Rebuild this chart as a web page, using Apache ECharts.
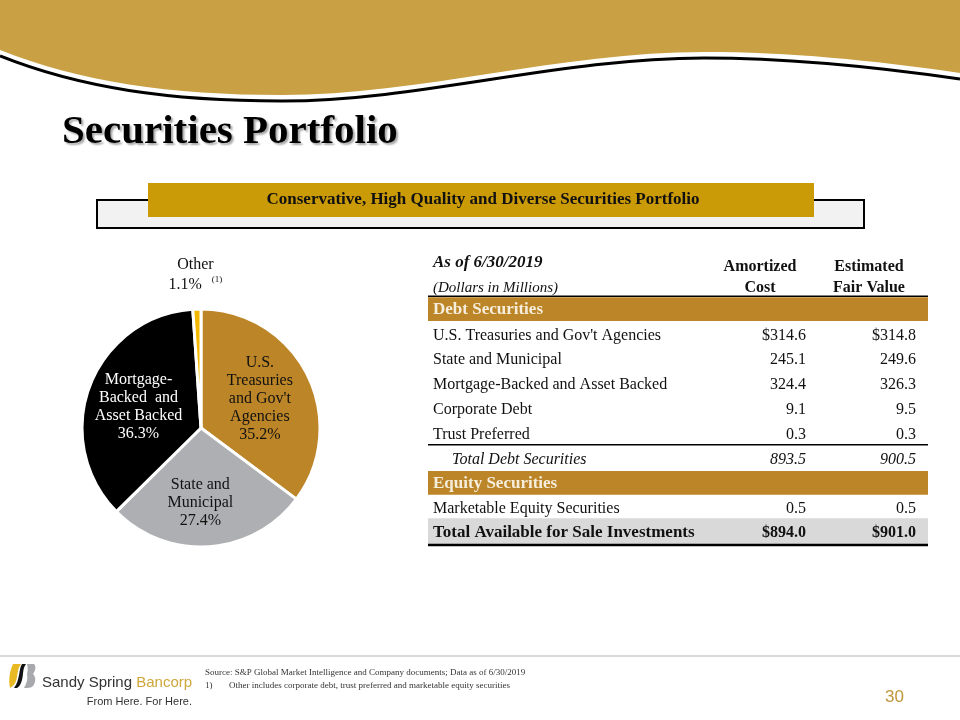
<!DOCTYPE html>
<html>
<head>
<meta charset="utf-8">
<script src="https://cdn.jsdelivr.net/npm/echarts@6/dist/echarts.min.js"></script>
<style>
  html, body { margin: 0; padding: 0; background: #fff; }
  #chart { width: 960px; height: 720px; }
</style>
</head>
<body>
<div id="chart"></div>
<script>
// ---------- DATA ----------
const titleText = 'Securities Portfolio';
const bannerText = 'Conservative, High Quality and Diverse Securities Portfolio';

const pieNames = ["U.S. Treasuries and Gov't Agencies", 'State and Municipal', 'Mortgage-Backed and Asset Backed', 'Other'];
const pieLabels = ["U.S.\nTreasuries\nand Gov't\nAgencies", 'State and\nMunicipal', 'Mortgage-\nBacked  and\nAsset Backed', 'Other'];
const piePercents = [35.2, 27.4, 36.3, 1.1];
const otherFootnote = '(1)';

const headerLabels = ['As of 6/30/2019', '(Dollars in Millions)'];
const columnHeaders = [['Amortized', 'Cost'], ['Estimated', 'Fair Value']];
const sectionLabels = ['Debt Securities', 'Equity Securities'];
const debtLabels = ["U.S. Treasuries and Gov't Agencies", 'State and Municipal', 'Mortgage-Backed and Asset Backed', 'Corporate Debt', 'Trust Preferred'];
const debtCost = [314.6, 245.1, 324.4, 9.1, 0.3];
const debtFair = [314.8, 249.6, 326.3, 9.5, 0.3];
const debtTotalLabel = 'Total Debt Securities';
const debtTotal = [893.5, 900.5];
const equityLabels = ['Marketable Equity Securities'];
const equityCost = [0.5];
const equityFair = [0.5];
const grandTotalLabel = 'Total Available for Sale Investments';
const grandTotal = [894.0, 901.0];

const brandName = ['Sandy Spring ', 'Bancorp'];
const tagline = 'From Here. For Here.';
const sourceText = 'Source: S&P Global Market Intelligence and Company documents; Data as of 6/30/2019';
const footnoteNum = '1)';
const footnoteText = 'Other includes corporate debt, trust preferred and marketable equity securities';
const pageNumber = '30';

// ---------- STYLE ----------
const SERIF = '"Liberation Serif", "Times New Roman", serif';
const SANS = '"Liberation Sans", Arial, sans-serif';
const GOLD = '#BC8527';
const pieColors = [GOLD, '#ADAFB2', '#000000', '#F2B800'];
const pieTextColors = ['#111111', '#111111', '#ffffff', '#111111'];

// ---------- TABLE ROWS ----------
const fmt = (v, dollar) => (dollar ? '$' : '') + v.toFixed(1);
const rows = [];
rows.push({ type: 'head1' });
rows.push({ type: 'head2' });
rows.push({ type: 'section', label: sectionLabels[0] });
debtLabels.forEach((l, i) => rows.push({ type: 'row', label: l, a: fmt(debtCost[i], i === 0), b: fmt(debtFair[i], i === 0), line: i === debtLabels.length - 1 }));
rows.push({ type: 'subtotal', label: debtTotalLabel, a: fmt(debtTotal[0]), b: fmt(debtTotal[1]) });
rows.push({ type: 'section', label: sectionLabels[1] });
equityLabels.forEach((l, i) => rows.push({ type: 'row', label: l, a: fmt(equityCost[i]), b: fmt(equityFair[i]) }));
rows.push({ type: 'total', label: grandTotalLabel, a: fmt(grandTotal[0], true), b: fmt(grandTotal[1], true) });

function txt(text, x, y, opt) {
  return {
    type: 'text',
    style: Object.assign({
      text: text, x: x, y: y, fill: '#111', fontFamily: SERIF, fontSize: 16,
      fontWeight: 'normal', fontStyle: 'normal', align: 'left', verticalAlign: 'middle'
    }, opt || {})
  };
}

function renderRow(params, api) {
  const i = params.dataIndex;
  const r = rows[i];
  const yc = api.coord([0, i])[1];
  const h = api.size([0, 1])[1];
  const X = v => api.coord([v, i])[0];
  const top = yc - h / 2;
  const x0 = X(0), x1 = X(1);
  const labelX = X(0.01), c1 = X(0.756), c2 = X(0.976), h1 = X(0.664), h2 = X(0.882);
  const ch = [];
  const dy = 1.5;
  if (r.type === 'head1') {
    ch.push(txt(headerLabels[0], labelX, yc + 3, { fontWeight: 'bold', fontStyle: 'italic', fontSize: 17 }));
    ch.push(txt(columnHeaders[0][0], h1, yc + 7, { fontWeight: 'bold', align: 'center' }));
    ch.push(txt(columnHeaders[1][0], h2, yc + 7, { fontWeight: 'bold', align: 'center' }));
  } else if (r.type === 'head2') {
    ch.push(txt(headerLabels[1], labelX, yc + 4, { fontStyle: 'italic', fontSize: 15 }));
    ch.push(txt(columnHeaders[0][1], h1, yc + 4, { fontWeight: 'bold', align: 'center' }));
    ch.push(txt(columnHeaders[1][1], h2, yc + 4, { fontWeight: 'bold', align: 'center' }));
    ch.push({ type: 'line', shape: { x1: x0, y1: top + h - 0.5, x2: x1, y2: top + h - 0.5 }, style: { stroke: '#000', lineWidth: 1.5 } });
  } else if (r.type === 'section') {
    ch.push({ type: 'rect', shape: { x: x0, y: top + 0.5, width: x1 - x0, height: h - 1 }, style: { fill: GOLD } });
    ch.push(txt(r.label, labelX, yc + 1, { fontWeight: 'bold', fontSize: 17, fill: '#F6EEDC' }));
  } else if (r.type === 'row') {
    ch.push(txt(r.label, labelX, yc + dy));
    ch.push(txt(r.a, c1, yc + dy, { align: 'right' }));
    ch.push(txt(r.b, c2, yc + dy, { align: 'right' }));
    if (r.line) ch.push({ type: 'line', shape: { x1: x0, y1: top + h - 1, x2: x1, y2: top + h - 1 }, style: { stroke: '#000', lineWidth: 1.5 } });
  } else if (r.type === 'subtotal') {
    ch.push(txt(r.label, X(0.048), yc + dy, { fontStyle: 'italic' }));
    ch.push(txt(r.a, c1, yc + dy, { align: 'right', fontStyle: 'italic' }));
    ch.push(txt(r.b, c2, yc + dy, { align: 'right', fontStyle: 'italic' }));
  } else if (r.type === 'total') {
    ch.push({ type: 'rect', shape: { x: x0, y: top - 2, width: x1 - x0, height: h + 1 }, style: { fill: '#D9D9D9' } });
    ch.push(txt(r.label, labelX, yc + 0.5, { fontWeight: 'bold', fontSize: 17 }));
    ch.push(txt(r.a, c1, yc + 0.5, { align: 'right', fontWeight: 'bold' }));
    ch.push(txt(r.b, c2, yc + 0.5, { align: 'right', fontWeight: 'bold' }));
    ch.push({ type: 'line', shape: { x1: x0, y1: top + h, x2: x1, y2: top + h }, style: { stroke: '#000', lineWidth: 2.5 } });
  }
  return { type: 'group', children: ch };
}

// decorative slide shapes (header wave, logo)
function renderDecor() {
  return {
    type: 'group',
    children: [
      { type: 'path', shape: { pathData: 'M0 0 L960 0 L960 73 C 870 60 790 52 704 52 C 560 52 420 95 282 95 C 170 95 80 82 0 50 Z' }, style: { fill: '#C9A043' } },
      { type: 'path', shape: { pathData: 'M0 56 C 80 88 170 101 282 101 C 420 101 560 58 704 58 C 790 58 870 66 960 79' }, style: { fill: null, stroke: '#000', lineWidth: 3 } },
      { type: 'path', shape: { pathData: 'M13 664 L21 664 C17 669 18 675 16 681 C15 684 13 686 10 688 C9 683 9 678 10 673 C11 669 12 666 13 664 Z' }, style: { fill: '#E8B923' } },
      { type: 'path', shape: { pathData: 'M22 664 L26 664 C22 669 24 676 21 683 C20 685 19 687 17 688 L14 688 C17 684 18 680 19 675 C20 670 20 667 22 664 Z' }, style: { fill: '#111' } },
      { type: 'path', shape: { pathData: 'M27 664 L34 664 C36 666 36 670 33 674 C36 677 36 682 33 686 C31 688 28 688 24 688 C27 683 28 678 27 674 C28 670 28 667 27 664 Z' }, style: { fill: '#A7A9AC' } }
    ]
  };
}

// ---------- CHART ----------
const chart = echarts.init(document.getElementById('chart'), null, { renderer: 'canvas' });

const pieData = pieNames.map((n, i) => {
  const item = {
    name: n, value: piePercents[i],
    itemStyle: { color: pieColors[i] },
    label: { color: pieTextColors[i] }
  };
  if (i === pieNames.length - 1) {
    item.label = {
      position: 'outside', color: '#111',
      formatter: () => '{a|' + pieLabels[i] + '}\n{a|' + piePercents[i].toFixed(1) + '%}{s|' + otherFootnote + '}',
      rich: {
        a: { fontFamily: SERIF, fontSize: 16, lineHeight: 20, color: '#111' },
        s: { fontFamily: SERIF, fontSize: 9, lineHeight: 20, color: '#111', verticalAlign: 'top', padding: [0, 0, 10, 10] }
      }
    };
    item.labelLine = { show: false, length: 14, length2: 0 };
  }
  return item;
});

const option = {
  animation: false,
  backgroundColor: '#ffffff',
  grid: { left: 428, width: 500, top: 247, height: 298, containLabel: false },
  xAxis: { type: 'value', min: 0, max: 1, show: false },
  yAxis: { type: 'category', data: rows.map((_, i) => String(i)), inverse: true, show: false },
  series: [
    {
      type: 'custom',
      coordinateSystem: 'none',
      renderItem: renderDecor,
      data: [[0]],
      silent: true,
      z: 0
    },
    {
      type: 'pie',
      center: [201, 428],
      radius: 119,
      startAngle: 90,
      clockwise: true,
      avoidLabelOverlap: false,
      itemStyle: { borderColor: '#ffffff', borderWidth: 3 },
      label: {
        show: true, position: 'inside',
        fontFamily: SERIF, fontSize: 16, lineHeight: 18,
        formatter: p => pieLabels[p.dataIndex] + '\n' + p.value.toFixed(1) + '%'
      },
      labelLayout: p => {
        if (p.dataIndex === 3) return { align: 'center', verticalAlign: 'bottom', dx: 4, dy: 0 };
        if (p.dataIndex === 1) return { dx: -5, dy: 12 };
        if (p.dataIndex === 0) return { dx: 3, dy: -1 };
        if (p.dataIndex === 2) return { dx: -4, dy: 1 };
        return {};
      },
      emphasis: { disabled: true },
      data: pieData
    },
    {
      type: 'custom',
      xAxisIndex: 0, yAxisIndex: 0,
      renderItem: renderRow,
      encode: { x: 0, y: 1 },
      data: rows.map((_, i) => [0.5, i]),
      silent: true
    }
  ],
  graphic: [
    { type: 'text', style: { text: titleText, x: 62, y: 132, fontFamily: SERIF, fontSize: 41, fontWeight: 'bold', fill: '#000', verticalAlign: 'middle', textShadowColor: 'rgba(0,0,0,0.35)', textShadowOffsetX: 2, textShadowOffsetY: 2, textShadowBlur: 2 }, silent: true },
    { type: 'rect', shape: { x: 97, y: 200, width: 767, height: 28 }, style: { fill: '#F2F2F2', stroke: '#000', lineWidth: 2 }, silent: true },
    { type: 'rect', shape: { x: 148, y: 183, width: 666, height: 34 }, style: { fill: '#CA9A07' }, silent: true },
    { type: 'text', style: { text: bannerText, x: 483, y: 200, fontFamily: SERIF, fontSize: 17, fontWeight: 'bold', fill: '#111', align: 'center', verticalAlign: 'middle' }, silent: true },
    { type: 'line', shape: { x1: 0, y1: 656, x2: 960, y2: 656 }, style: { stroke: '#D9D9D9', lineWidth: 2 }, silent: true },
    { type: 'text', style: { text: '{d|' + brandName[0] + '}{g|' + brandName[1] + '}', x: 42, y: 683, verticalAlign: 'middle', rich: { d: { fontFamily: SANS, fontSize: 15, fill: '#333333' }, g: { fontFamily: SANS, fontSize: 15, fill: '#CFA63B' } } }, silent: true },
    { type: 'text', style: { text: tagline, x: 192, y: 702, align: 'right', verticalAlign: 'middle', fontFamily: SANS, fontSize: 11, fill: '#333' }, silent: true },
    { type: 'text', style: { text: sourceText, x: 205, y: 673, verticalAlign: 'middle', fontFamily: SERIF, fontSize: 9, fill: '#333' }, silent: true },
    { type: 'text', style: { text: footnoteNum, x: 205, y: 686, verticalAlign: 'middle', fontFamily: SERIF, fontSize: 9, fill: '#333' }, silent: true },
    { type: 'text', style: { text: footnoteText, x: 229, y: 686, verticalAlign: 'middle', fontFamily: SERIF, fontSize: 9, fill: '#333' }, silent: true },
    { type: 'text', style: { text: pageNumber, x: 904, y: 697, align: 'right', verticalAlign: 'middle', fontFamily: SANS, fontSize: 17, fill: '#BF963A' }, silent: true }
  ]
};
chart.setOption(option);
</script>
</body>
</html>
